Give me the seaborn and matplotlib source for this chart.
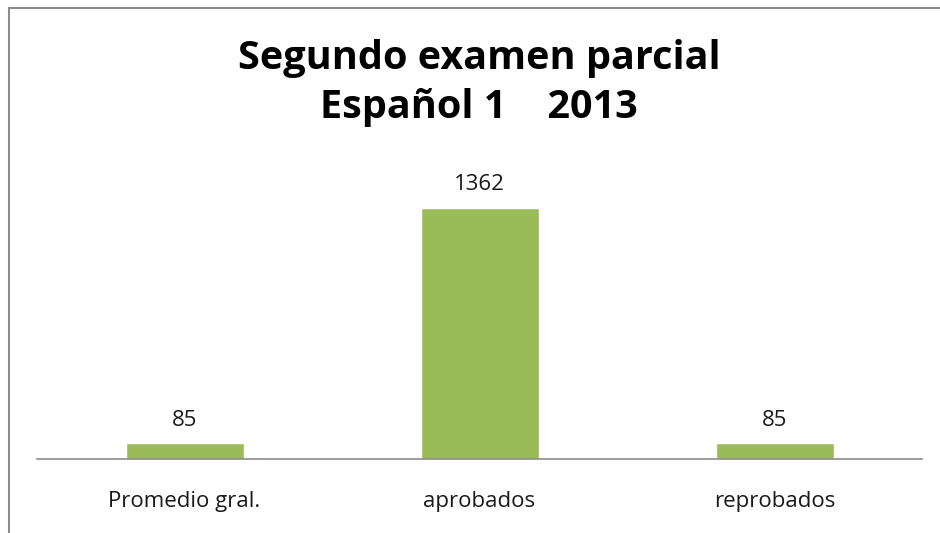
import matplotlib
matplotlib.use("Agg")
import matplotlib.pyplot as plt
from matplotlib.patches import Rectangle
import seaborn as sns
import pandas as pd

categories = ["Promedio gral.", "aprobados", "reprobados"]
values = [85, 1362, 85]
title_lines = ["Segundo examen parcial", "Español 1    2013"]

sns.set_theme(style="white")
plt.rcParams['font.family'] = ['Open Sans', 'DejaVu Sans']

W, H = 940, 533
fig = plt.figure(figsize=(W / 100, H / 100), dpi=100)

# outer chart border
fig.patches.append(Rectangle((9 / W, -0.05), 1.2, (H - 8) / H + 0.05, transform=fig.transFigure,
                             fill=False, edgecolor="#8c8c8c", linewidth=1.5, zorder=0))

ax = fig.add_axes([37 / W, 74 / H, (922 - 37) / W, (459 - 170) / H])
df = pd.DataFrame({"cat": categories, "val": values})
sns.barplot(data=df, x="cat", y="val", color="#9BBB59", width=0.4, ax=ax, saturation=1)
ax.set_ylim(0, 1568)
ax.set_xlim(-0.5, 2.5)
for s in ["top", "right", "left"]:
    ax.spines[s].set_visible(False)
ax.spines["bottom"].set_color("#8c8c8c")
ax.spines["bottom"].set_linewidth(1.2)
ax.set_yticks([])
ax.set_xlabel("")
ax.set_ylabel("")
ax.tick_params(axis="x", length=0, pad=23, labelsize=16, labelcolor="#1a1a1a")
for c in ax.containers:
    ax.bar_label(c, labels=[str(v) for v in values], padding=9, fontsize=16, color="#1a1a1a")

fig.text(479 / W, 1 - 58 / H, title_lines[0], ha="center", va="center", fontsize=28.5, fontweight="bold", color="black")
fig.text(479 / W, 1 - 108 / H, title_lines[1], ha="center", va="center", fontsize=28.5, fontweight="bold", color="black")

fig.savefig("out.png", dpi=100)
